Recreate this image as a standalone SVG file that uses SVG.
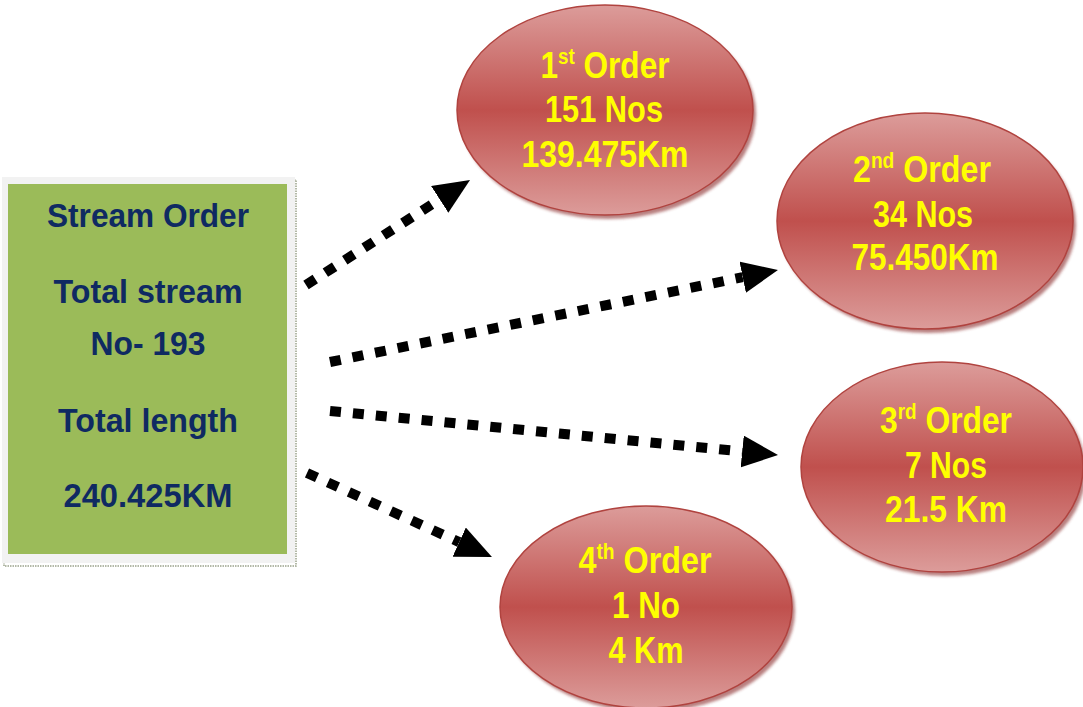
<svg xmlns="http://www.w3.org/2000/svg" width="1083" height="707" viewBox="0 0 1083 707">
<defs>
<linearGradient id="red" x1="0" y1="0" x2="0" y2="1">
<stop offset="0" stop-color="#dc9c9a"/>
<stop offset="0.5" stop-color="#c0504d"/>
<stop offset="1" stop-color="#dc9c9a"/>
</linearGradient>
<marker id="ah" viewBox="0 0 36 32" refX="0" refY="16" markerUnits="userSpaceOnUse" markerWidth="36" markerHeight="32" orient="auto">
<path d="M0,0 L36,16 L0,32 Z" fill="#000"/>
</marker>
<filter id="blur" x="-10%" y="-10%" width="120%" height="120%"><feGaussianBlur stdDeviation="1.5"/></filter>
</defs>
<style>
.box{font-family:"Liberation Sans",Arial,sans-serif;font-weight:bold;font-size:34px;fill:#0f2a62;text-anchor:middle}
.ov{font-family:"Liberation Sans",Arial,sans-serif;font-weight:bold;font-size:37px;fill:#ffff00;text-anchor:middle}
.ell{fill:url(#red);stroke:#b0433f;stroke-width:1.5}
.sh{fill:#8a2c2a;opacity:0.6;filter:url(#blur)}
.con{fill:none;stroke:#000;stroke-width:10;stroke-dasharray:11 12;marker-end:url(#ah)}
</style>
<rect width="1083" height="707" fill="#fff"/>

<g id="summary">
<rect x="4" y="180" width="292" height="386" fill="none" stroke="#9aa38a" stroke-width="1.5" stroke-dasharray="1.5 1"/>
<rect x="2" y="177" width="293" height="386" fill="#f2f2f2"/>
<rect x="8" y="184" width="279" height="370" fill="#9bbb59"/>
<text class="box" x="148" y="227" textLength="202" lengthAdjust="spacingAndGlyphs">Stream Order</text>
<text class="box" x="148" y="303" textLength="189" lengthAdjust="spacingAndGlyphs">Total stream</text>
<text class="box" x="148" y="355" textLength="115" lengthAdjust="spacingAndGlyphs">No- 193</text>
<text class="box" x="148" y="432" textLength="180" lengthAdjust="spacingAndGlyphs">Total length</text>
<text class="box" x="148" y="507" textLength="169" lengthAdjust="spacingAndGlyphs">240.425KM</text>
</g>

<g id="connectors">
<path class="con" d="M306,285 L439.7,199.4"/>
<path class="con" d="M330,362 L742.7,277.2"/>
<path class="con" d="M330,411 L742.2,451.5"/>
<path class="con" d="M307,473 L459.2,542.1"/>
</g>

<g id="order1">
<ellipse class="sh" cx="608" cy="114" rx="148" ry="105"/>
<ellipse class="ell" cx="605" cy="110" rx="148" ry="105"/>
<text class="ov" x="605" y="78" textLength="129" lengthAdjust="spacingAndGlyphs">1<tspan font-size="22" dy="-14">st</tspan><tspan dy="14"> Order</tspan></text>
<text class="ov" x="604" y="122" textLength="118" lengthAdjust="spacingAndGlyphs">151 Nos</text>
<text class="ov" x="605" y="167" textLength="167" lengthAdjust="spacingAndGlyphs">139.475Km</text>
</g>

<g id="order2">
<ellipse class="sh" cx="928" cy="225" rx="148" ry="108"/>
<ellipse class="ell" cx="925" cy="221" rx="148" ry="108"/>
<text class="ov" x="922" y="182" textLength="138" lengthAdjust="spacingAndGlyphs">2<tspan font-size="22" dy="-14">nd</tspan><tspan dy="14"> Order</tspan></text>
<text class="ov" x="923" y="227" textLength="100" lengthAdjust="spacingAndGlyphs">34 Nos</text>
<text class="ov" x="925" y="270" textLength="147" lengthAdjust="spacingAndGlyphs">75.450Km</text>
</g>

<g id="order3">
<ellipse class="sh" cx="945" cy="471" rx="141" ry="105"/>
<ellipse class="ell" cx="942" cy="467" rx="141" ry="105"/>
<text class="ov" x="946" y="433" textLength="132" lengthAdjust="spacingAndGlyphs">3<tspan font-size="22" dy="-14">rd</tspan><tspan dy="14"> Order</tspan></text>
<text class="ov" x="946" y="478" textLength="82" lengthAdjust="spacingAndGlyphs">7 Nos</text>
<text class="ov" x="946" y="522" textLength="122" lengthAdjust="spacingAndGlyphs">21.5 Km</text>
</g>

<g id="order4">
<ellipse class="sh" cx="649" cy="611" rx="146" ry="101"/>
<ellipse class="ell" cx="646" cy="607" rx="146" ry="101"/>
<text class="ov" x="645" y="573" textLength="133" lengthAdjust="spacingAndGlyphs">4<tspan font-size="22" dy="-14">th</tspan><tspan dy="14"> Order</tspan></text>
<text class="ov" x="646" y="618" textLength="68" lengthAdjust="spacingAndGlyphs">1 No</text>
<text class="ov" x="646" y="663" textLength="75" lengthAdjust="spacingAndGlyphs">4 Km</text>
</g>
</svg>
